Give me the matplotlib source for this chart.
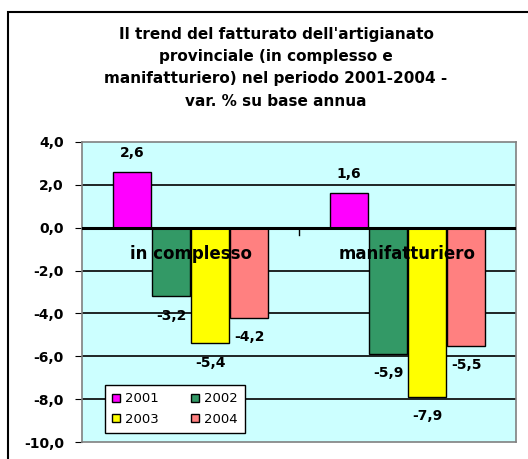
import numpy as np
import matplotlib.pyplot as plt
from matplotlib.patches import Rectangle

# dati
categorie = ['in complesso', 'manifatturiero']
anni = ['2001', '2002', '2003', '2004']
v2001 = [2.6, 1.6]
v2002 = [-3.2, -5.9]
v2003 = [-5.4, -7.9]
v2004 = [-4.2, -5.5]
colori = ['#FF00FF', '#339966', '#FFFF00', '#FF8080']
yticks = [4, 2, 0, -2, -4, -6, -8, -10]

serie = [v2001, v2002, v2003, v2004]

W, H = 528, 459
fig = plt.figure(figsize=(W / 100, H / 100), dpi=100)
fig.patch.set_facecolor('white')

# cornice esterna (tagliata a destra e in basso)
fig.add_artist(Rectangle((8 / W, -0.2), 1.5, 1.2 - 12 / H, transform=fig.transFigure,
                         fill=False, edgecolor='black', lw=1.5))

titolo = ("Il trend del fatturato dell'artigianato\n"
          "provinciale (in complesso e\n"
          "manifatturiero) nel periodo 2001-2004 -\n"
          "var. % su base annua")
fig.text(276 / W, 1 - 27 / H, titolo, ha='center', va='top', fontsize=11,
         fontweight='bold', linespacing=1.6)

ax = fig.add_axes([82 / W, 1 - 442 / H, (516 - 82) / W, (442 - 142) / H])
ax.set_facecolor('#CCFFFF')

x = np.arange(len(categorie))
step = 0.18
larg = 0.172
barre = []
for i, (vals, col, anno) in enumerate(zip(serie, colori, anni)):
    pos = x + (i - 1.5) * step
    b = ax.bar(pos, vals, width=larg, color=col, edgecolor='black', lw=1, label=anno, zorder=3)
    barre.append(b)
    for p, v in zip(pos, vals):
        off = 0.9 if v > 0 else -0.9
        ax.text(p, v + off, f'{v:.1f}'.replace('.', ','), ha='center', va='center',
                fontsize=10, fontweight='bold', zorder=5)

ax.set_xlim(-0.5, 1.5)
ax.set_ylim(-10, 4)
ax.set_yticks(yticks)
ax.set_yticklabels([f'{t:.1f}'.replace('.', ',') for t in yticks], fontsize=10,
                   fontweight='bold')
ax.tick_params(axis='y', direction='out', length=5, color='black', pad=8)
ax.set_xticks([])
for t in yticks:
    if t not in (4, -10, 0):
        ax.axhline(t, color='black', lw=1.2, zorder=1)
ax.axhline(0, color='black', lw=2.2, zorder=4)
ax.plot([0.5, 0.5], [0, -0.35], color='black', lw=1, zorder=4)

for c, nome in zip(x, categorie):
    ax.text(c, -1.25, nome, ha='center', va='center', fontsize=12,
            fontweight='bold', zorder=6)

for s in ax.spines.values():
    s.set_color('#808080')
    s.set_linewidth(1.2)

# ordine per righe: 2001 2002 / 2003 2004
ordine = [0, 2, 1, 3]
leg = ax.legend([barre[i] for i in ordine], [anni[i] for i in ordine], ncol=2,
                loc='lower left', bbox_to_anchor=(23 / 434, 9 / 300), borderaxespad=0,
                fontsize=9.5, frameon=True, fancybox=False, edgecolor='black',
                framealpha=1, handlelength=0.6, handleheight=0.6, handletextpad=0.4,
                columnspacing=2.4, borderpad=0.55, labelspacing=0.55)
leg.get_frame().set_linewidth(1)
leg.set_zorder(7)

fig.savefig('out.png', dpi=100)
